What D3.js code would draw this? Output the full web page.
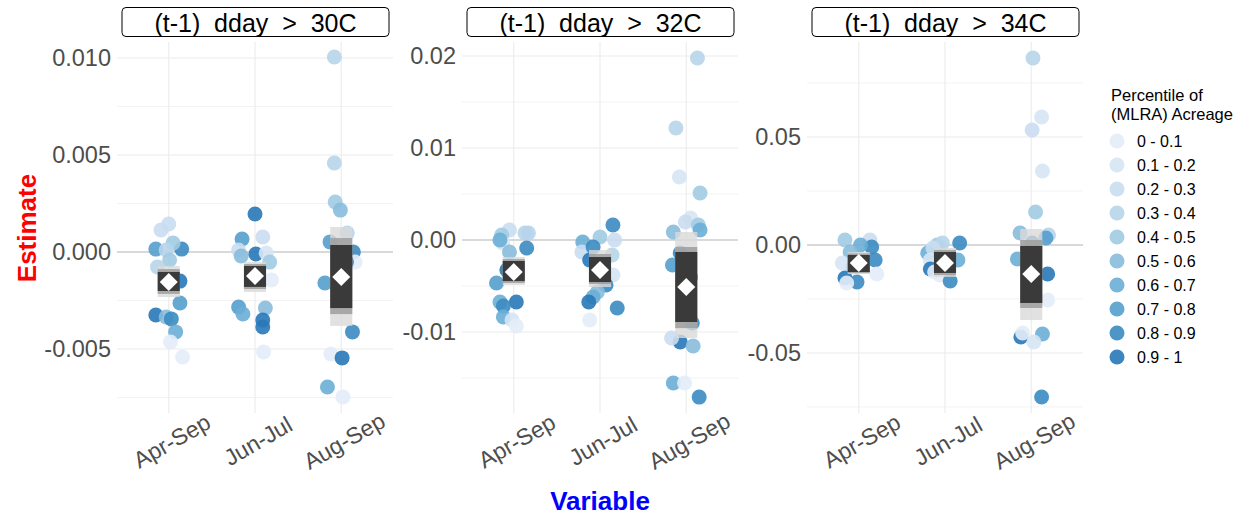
<!DOCTYPE html>
<html lang="en">
<head>
    <meta charset="UTF-8">
    <title>Estimate by Variable</title>
    <script src="https://d3js.org/d3.v7.min.js"></script>
    <style>
        body{ margin:0; background:#fff; }
        svg{ font-family: "Liberation Sans", Arial, sans-serif; }
    </style>
</head>
<body>
<script>
    // ---- data ----
    const panelTitles = ["(t-1)  dday  >  30C", "(t-1)  dday  >  32C", "(t-1)  dday  >  34C"]
    const variables = ["Apr-Sep", "Jun-Jul", "Aug-Sep"]
    const legendLabels = ["0 - 0.1","0.1 - 0.2","0.2 - 0.3","0.3 - 0.4","0.4 - 0.5",
                          "0.5 - 0.6","0.6 - 0.7","0.7 - 0.8","0.8 - 0.9","0.9 - 1"]

    const yTicks30 = [-0.005, 0, 0.005, 0.010]
    const yMinor30 = [-0.0075, -0.0025, 0.0025, 0.0075]
    const yTicks32 = [-0.01, 0, 0.01, 0.02]
    const yMinor32 = [-0.015, -0.005, 0.005, 0.015]
    const yTicks34 = [-0.05, 0, 0.05]
    const yMinor34 = [-0.075, -0.025, 0.025, 0.075]

    const yDomain30 = [-0.0083, 0.010825]
    const yDomain32 = [-0.0188, 0.02152]
    const yDomain34 = [-0.0778, 0.094]

    // points: [x position (1 = Apr-Sep, jittered), estimate, percentile class]
    const pts30 = [
        [0.91,0.00113,2],[1.0,0.00144,2],[0.85,0.00015,7],[1.15,0.00015,8],[1.05,0.00046,4],[0.97,0.0001,3],
        [1.01,-0.00041,4],[0.87,-0.00077,3],[1.13,-0.0015,9],[1.13,-0.00263,7],[0.85,-0.00325,9],[0.97,-0.00335,5],
        [1.03,-0.00345,8],[1.08,-0.00412,6],[1.02,-0.00464,0],[1.16,-0.00541,0],
        [2.0,0.00196,9],[1.85,0.00067,7],[2.09,0.00077,2],[1.81,0.0001,2],[1.84,-0.00021,5],[2.01,-0.0001,9],
        [2.13,-0.00005,1],[2.17,-0.00052,4],[2.19,-0.00144,0],[1.81,-0.00284,7],[1.86,-0.0032,6],[2.12,-0.00289,5],
        [2.09,-0.00351,9],[2.09,-0.00387,9],[2.1,-0.00515,0],
        [2.92,0.01005,3],[2.92,0.00459,3],[2.93,0.00258,4],[2.99,0.00216,5],[3.07,0.00098,3],[2.87,0.00052,7],
        [3.14,0.0,8],[3.16,-0.00052,0],[3.06,-0.00052,9],[2.81,-0.0016,7],[3.03,-0.00196,9],[3.13,-0.00412,8],
        [2.88,-0.00526,0],[3.01,-0.00546,9],[2.84,-0.00696,6],[3.02,-0.00747,0]
    ]
    const pts32 = [
        [0.95,0.00109,2],[0.86,0.00054,4],[0.87,-0.00033,1],[0.84,0.0,6],[1.13,0.00076,3],[1.17,0.00076,3],
        [1.15,-0.00087,8],[0.95,-0.0013,5],[0.92,-0.00326,9],[0.8,-0.00467,7],[0.84,-0.00674,6],[1.03,-0.00674,9],
        [0.88,-0.00717,8],[0.88,-0.00837,6],[0.98,-0.0087,1],[1.03,-0.00935,0],
        [2.15,0.00163,8],[1.8,-0.00022,6],[2.0,0.00033,4],[2.17,0.0,2],[1.79,-0.0013,2],[1.92,-0.00076,8],
        [1.88,-0.00217,9],[2.14,-0.00163,3],[2.15,-0.0038,1],[2.07,-0.00489,8],[1.97,-0.00565,5],[1.92,-0.0062,6],
        [1.87,-0.00674,9],[2.2,-0.00739,8],[1.88,-0.0087,0],
        [3.13,0.01978,3],[2.88,0.01217,3],[2.92,0.00685,1],[3.16,0.00511,4],[3.05,0.00239,1],[2.99,0.00196,2],
        [3.14,0.00163,4],[3.16,0.00109,6],[2.85,0.00087,5],[2.93,-0.00141,8],[2.84,-0.00272,7],[3.05,-0.00402,9],
        [3.07,-0.00902,8],[2.93,-0.01109,9],[2.83,-0.01065,2],[3.08,-0.01152,5],[2.85,-0.01554,6],[2.98,-0.01554,0],
        [3.15,-0.01707,8]
    ]
    const pts34 = [
        [0.84,0.00231,4],[1.13,0.00231,2],[1.15,-0.00093,8],[1.02,0.0,6],[0.9,-0.00324,5],[0.81,-0.00833,1],
        [0.93,-0.01019,2],[1.19,-0.00694,8],[1.21,-0.01343,0],[0.84,-0.01528,9],[0.98,-0.01713,8],[0.86,-0.01759,0],
        [1.91,0.0,4],[1.97,0.00093,3],[2.17,0.00093,8],[1.8,-0.0037,6],[1.86,-0.00139,2],[1.83,-0.00694,1],
        [2.15,-0.00694,6],[1.83,-0.01111,9],[1.88,-0.0125,0],[1.94,-0.01389,0],[2.06,-0.01667,8],
        [3.02,0.08657,3],[3.12,0.05926,1],[3.01,0.05324,2],[3.13,0.03426,1],[3.05,0.01528,4],[2.87,0.00556,5],
        [3.2,0.00463,3],[3.17,0.00324,7],[3.01,0.00093,9],[2.84,-0.00648,6],[3.19,-0.01343,9],[3.02,-0.02176,9],
        [3.19,-0.02546,0],[2.88,-0.04259,9],[2.9,-0.04074,0],[3.13,-0.0412,6],[3.03,-0.04491,1],[3.12,-0.07037,8]
    ]

    // intervals per variable: [mean, lo inner, hi inner, lo mid, hi mid, lo outer, hi outer]
    const box30 = [
        [-0.00155, -0.00201, -0.00103, -0.00216, -0.00088, -0.00232, -0.00072],
        [-0.00124, -0.0018, -0.00072, -0.00191, -0.00062, -0.00206, -0.00052],
        [-0.00129, -0.00289, 0.00036, -0.0032, 0.00072, -0.00381, 0.00129]
    ]
    const box32 = [
        [-0.00348, -0.00446, -0.00228, -0.00467, -0.00207, -0.00489, -0.00185],
        [-0.00326, -0.00457, -0.00185, -0.00478, -0.00152, -0.00511, -0.00109],
        [-0.00511, -0.00891, -0.0013, -0.00957, -0.00076, -0.01065, 0.00087]
    ]
    const box34 = [
        [-0.00833, -0.0125, -0.00463, -0.013, -0.0039, -0.01343, -0.00324],
        [-0.00833, -0.01296, -0.00324, -0.0139, -0.0023, -0.01481, -0.00139],
        [-0.01343, -0.02685, -0.00046, -0.02917, 0.00231, -0.03472, 0.00741]
    ]

    const palette = ["#e3edf8","#d6e5f4","#c9ddf0","#b7d4ea","#a1cbe2",
                     "#87bddc","#6aaed6","#549fcd","#3b8bc2","#2878b8"]

    const fmt3 = v => d3.format(".3f")(v).replace("\u2212", "-")
    const fmt2 = v => d3.format(".2f")(v).replace("\u2212", "-")

    const panels = [
        {title:panelTitles[0], pts:pts30, box:box30, dom:yDomain30, ticks:yTicks30, minor:yMinor30, fmt:fmt3},
        {title:panelTitles[1], pts:pts32, box:box32, dom:yDomain32, ticks:yTicks32, minor:yMinor32, fmt:fmt2},
        {title:panelTitles[2], pts:pts34, box:box34, dom:yDomain34, ticks:yTicks34, minor:yMinor34, fmt:fmt2}
    ]

    // ---- layout ----
    const W = 1247, H = 516
    const panelW = 276, panelTop = 42, panelBottom = 413
    const panelLefts = [117, 462, 807]
    const boxHalf = 0.128      // half width of interval bars in category units

    const svg = d3.select("body").append("svg")
                    .attr("width", W).attr("height", H)
                    .attr("viewBox", [0, 0, W, H])

    panels.forEach((p, i) => {
        const left = panelLefts[i]
        const x = d3.scaleLinear().domain([0.4, 3.6]).range([left, left + panelW])
        const y = d3.scaleLinear().domain(p.dom).range([panelBottom, panelTop])
        const g = svg.append("g")

        // minor grid
        g.selectAll(".minor").data(p.minor).join("line")
            .attr("x1", left).attr("x2", left + panelW)
            .attr("y1", d => y(d)).attr("y2", d => y(d))
            .attr("stroke", "#f3f3f3").attr("stroke-width", 1)
        // major grid
        g.selectAll(".major").data(p.ticks).join("line")
            .attr("x1", left).attr("x2", left + panelW)
            .attr("y1", d => y(d)).attr("y2", d => y(d))
            .attr("stroke", "#ebebeb").attr("stroke-width", 1.1)
        g.selectAll(".vgrid").data(variables).join("line")
            .attr("x1", (d, j) => x(j + 1)).attr("x2", (d, j) => x(j + 1))
            .attr("y1", panelTop).attr("y2", panelBottom)
            .attr("stroke", "#ebebeb").attr("stroke-width", 1.1)

        // zero line
        g.append("line")
            .attr("x1", left).attr("x2", left + panelW)
            .attr("y1", y(0)).attr("y2", y(0))
            .attr("stroke", "#bdbdbd").attr("stroke-width", 1.2)

        // y tick labels
        g.selectAll(".ylab").data(p.ticks).join("text")
            .attr("x", left - 6).attr("y", d => y(d))
            .attr("text-anchor", "end").attr("dominant-baseline", "central")
            .attr("font-size", 23.5).attr("fill", "#4d4d4d")
            .text(d => p.fmt(d))

        // x tick labels
        g.selectAll(".xlab").data(variables).join("text")
            .attr("transform", (d, j) => `translate(${x(j + 1) + 3},441) rotate(-30)`)
            .attr("text-anchor", "middle").attr("dominant-baseline", "central")
            .attr("font-size", 23).attr("fill", "#4d4d4d")
            .text(d => d)

        // points
        g.selectAll(".pt").data(p.pts).join("circle")
            .attr("cx", d => x(d[0])).attr("cy", d => y(d[1]))
            .attr("r", 7.5)
            .attr("fill", d => palette[d[2]]).attr("fill-opacity", 0.9)

        // interval bars, outer -> inner
        const layers = [[5, 6, "#d9d9d9", 0.8], [3, 4, "#9e9e9e", 0.85], [1, 2, "#333333", 0.94]]
        layers.forEach(L => {
            g.selectAll(null).data(p.box).join("rect")
                .attr("x", (d, j) => x(j + 1 - boxHalf))
                .attr("width", (d, j) => x(j + 1 + boxHalf) - x(j + 1 - boxHalf))
                .attr("y", d => y(d[L[1]]))
                .attr("height", d => y(d[L[0]]) - y(d[L[1]]))
                .attr("fill", L[2]).attr("fill-opacity", L[3])
        })

        // mean diamonds
        g.selectAll(".mean").data(p.box).join("path")
            .attr("transform", (d, j) => `translate(${x(j + 1)},${y(d[0])})`)
            .attr("d", "M0,-9L9,0L0,9L-9,0Z")
            .attr("fill", "#fff")

        // strip
        g.append("rect")
            .attr("x", left + 5).attr("y", 7.5)
            .attr("width", panelW - 9).attr("height", 29)
            .attr("rx", 4).attr("ry", 4)
            .attr("fill", "#fff").attr("stroke", "#000").attr("stroke-width", 1)
        g.append("text")
            .attr("x", left + 5 + (panelW - 9) / 2).attr("y", 22.5)
            .attr("text-anchor", "middle").attr("dominant-baseline", "central")
            .attr("font-size", 25).attr("fill", "#000")
            .style("white-space", "pre")
            .text(p.title)
    })

    // axis titles
    svg.append("text")
        .attr("transform", "translate(27,228) rotate(-90)")
        .attr("text-anchor", "middle").attr("dominant-baseline", "central")
        .attr("font-size", 26).attr("font-weight", "bold").attr("fill", "#ff0000")
        .text("Estimate")
    svg.append("text")
        .attr("x", 600).attr("y", 501)
        .attr("text-anchor", "middle").attr("dominant-baseline", "central")
        .attr("font-size", 26).attr("font-weight", "bold").attr("fill", "#0000ff")
        .text("Variable")

    // legend
    const legend = svg.append("g")
    legend.selectAll(".lt").data(["Percentile of", "(MLRA) Acreage"]).join("text")
        .attr("x", 1111).attr("y", (d, i) => 101 + i * 19)
        .attr("font-size", 16.5).attr("fill", "#000")
        .text(d => d)
    legend.selectAll(".lc").data(legendLabels).join("circle")
        .attr("cx", 1117).attr("cy", (d, i) => 141 + i * 24)
        .attr("r", 7.5)
        .attr("fill", (d, i) => palette[i]).attr("fill-opacity", 0.9)
    legend.selectAll(".ll").data(legendLabels).join("text")
        .attr("x", 1137).attr("y", (d, i) => 141 + i * 24)
        .attr("dominant-baseline", "central")
        .attr("font-size", 16).attr("fill", "#000")
        .text(d => d)
</script>
</body>
</html>
